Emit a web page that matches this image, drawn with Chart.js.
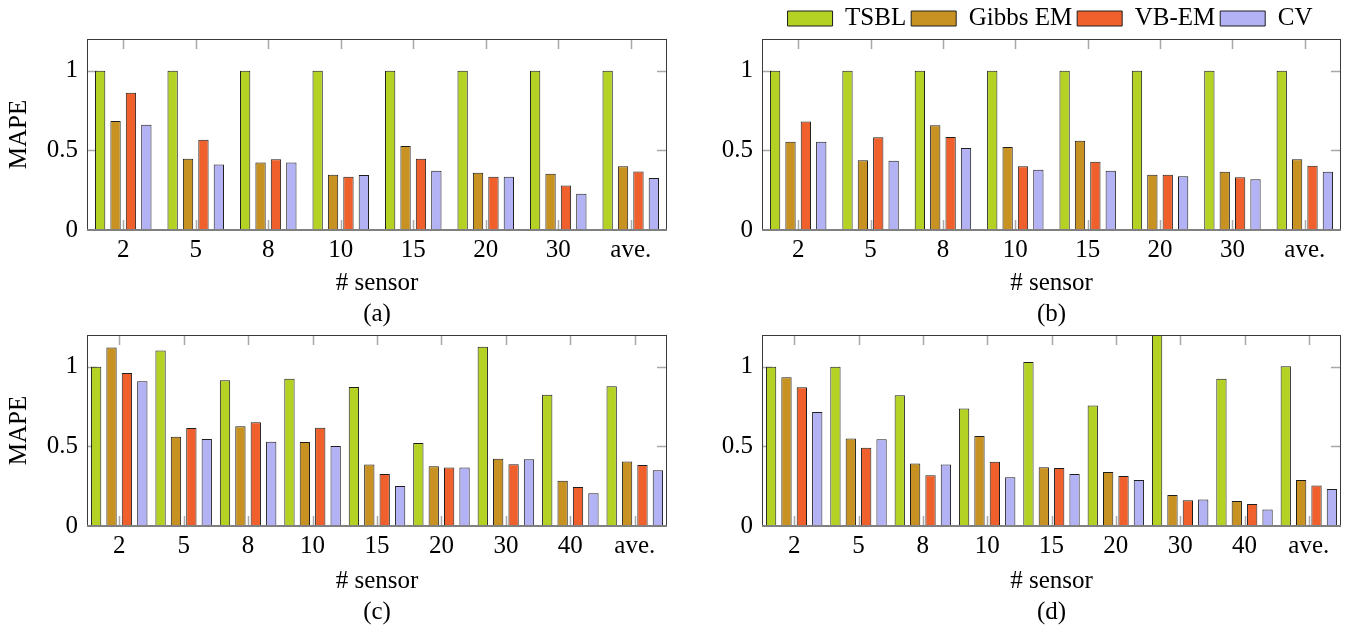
<!DOCTYPE html>
<html><head><meta charset="utf-8">
<script src="https://cdn.jsdelivr.net/npm/chart.js@4.4.0/dist/chart.umd.min.js"></script>
<style>
html,body{margin:0;padding:0;background:#fff;}
#wrap{position:relative;width:1350px;height:628px;overflow:hidden;background:#fff;}
canvas{position:absolute;}
</style></head><body>
<div id="wrap">
<canvas id="ca" width="680" height="330" style="left:0px;top:0px"></canvas>
<canvas id="cb" width="670" height="330" style="left:680px;top:0px"></canvas>
<canvas id="cc" width="680" height="328" style="left:0px;top:300px"></canvas>
<canvas id="cd" width="670" height="328" style="left:680px;top:300px"></canvas>
<canvas id="leg" width="600" height="90" style="left:750px;top:1px"></canvas>
</div>
<script>
// ---- data ----
const seriesNames = ['TSBL', 'Gibbs EM', 'VB-EM', 'CV'];
const catsAB = ['2', '5', '8', '10', '15', '20', '30', 'ave.'];
const catsCD = ['2', '5', '8', '10', '15', '20', '30', '40', 'ave.'];
const yTicks = [0, 0.5, 1];

const a_TSBL  = [1, 1, 1, 1, 1, 1, 1, 1];
const a_Gibbs = [0.685, 0.447, 0.424, 0.347, 0.527, 0.359, 0.353, 0.401];
const a_VB    = [0.863, 0.567, 0.445, 0.334, 0.447, 0.334, 0.279, 0.368];
const a_CV    = [0.662, 0.412, 0.424, 0.345, 0.372, 0.334, 0.227, 0.326];

const b_TSBL  = [1, 1, 1, 1, 1, 1, 1, 1];
const b_Gibbs = [0.555, 0.439, 0.658, 0.521, 0.561, 0.347, 0.366, 0.445];
const b_VB    = [0.681, 0.582, 0.584, 0.401, 0.429, 0.347, 0.332, 0.403];
const b_CV    = [0.555, 0.435, 0.515, 0.378, 0.372, 0.338, 0.319, 0.366];

const c_TSBL  = [1.0, 1.103, 0.916, 0.925, 0.874, 0.522, 1.126, 0.824, 0.878];
const c_Gibbs = [1.122, 0.560, 0.627, 0.528, 0.386, 0.375, 0.423, 0.285, 0.405];
const c_VB    = [0.962, 0.616, 0.652, 0.618, 0.327, 0.367, 0.388, 0.245, 0.384];
const c_CV    = [0.910, 0.547, 0.530, 0.503, 0.252, 0.367, 0.419, 0.205, 0.350];

const d_TSBL  = [1.0, 1.0, 0.822, 0.738, 1.031, 0.757, 1.3, 0.925, 1.004];
const d_Gibbs = [0.935, 0.549, 0.392, 0.566, 0.369, 0.340, 0.195, 0.157, 0.289];
const d_VB    = [0.872, 0.491, 0.319, 0.403, 0.365, 0.314, 0.161, 0.138, 0.254];
const d_CV    = [0.717, 0.545, 0.386, 0.306, 0.327, 0.289, 0.166, 0.103, 0.233];

// ---- style ----
const colors = ['#b4d223', '#c89222', '#f0602c', '#b2b2f5'];
const edge = '#1e1e1e';
Chart.defaults.font.family = "'Liberation Serif', 'Times New Roman', serif";
Chart.defaults.color = '#000';

const framePlugin = {
  id: 'frame',
  beforeDatasetsDraw(chart) {
    const {ctx, chartArea: a, scales: {x, y}} = chart;
    ctx.save();
    ctx.strokeStyle = '#a8a8a8';
    ctx.lineWidth = 1.5;
    ctx.beginPath();
    for (let i = 0; i < x.ticks.length; i++) {
      const px = Math.round(x.getPixelForTick(i)) + 0.5;
      ctx.moveTo(px, a.top); ctx.lineTo(px, a.top + 10);
      ctx.moveTo(px, a.bottom); ctx.lineTo(px, a.bottom - 10);
    }
    yTicks.forEach(v => {
      if (v === 0) return;
      const py = Math.round(y.getPixelForValue(v)) + 0.5;
      ctx.moveTo(a.left, py); ctx.lineTo(a.left + 10, py);
      ctx.moveTo(a.right, py); ctx.lineTo(a.right - 10, py);
    });
    ctx.stroke();
    ctx.restore();
  },
  afterDatasetsDraw(chart) {
    const {ctx, chartArea: a} = chart;
    ctx.save();
    ctx.strokeStyle = '#3a3a3a';
    ctx.lineWidth = 1;
    ctx.strokeRect(Math.round(a.left) + 0.5, Math.round(a.top) + 0.5,
                   Math.round(a.right - a.left) - 1, Math.round(a.bottom - a.top));
    ctx.strokeStyle = '#808080';
    ctx.lineWidth = 2;
    ctx.beginPath();
    ctx.moveTo(a.left, Math.round(a.bottom)); ctx.lineTo(a.right, Math.round(a.bottom));
    ctx.stroke();
    ctx.restore();
  }
};

function makePanel(id, cats, sets, caption, showYTitle, o) {
  const cp = cats.length === 9 ? 0.956 : 0.85;
  return new Chart(document.getElementById(id), {
    type: 'bar',
    data: {
      labels: cats,
      datasets: sets.map((d, i) => ({
        label: seriesNames[i], data: d,
        backgroundColor: colors[i], borderColor: edge, borderWidth: 1,
        borderSkipped: 'start', categoryPercentage: cp, barPercentage: 0.67
      }))
    },
    options: {
      responsive: false, animation: false, devicePixelRatio: 1,
      layout: {padding: {top: o.padTop, right: o.padRight, left: 0, bottom: 0}},
      plugins: {legend: {display: false}, tooltip: {enabled: false}},
      scales: {
        x: {
          grid: {display: false, drawTicks: false}, border: {display: false},
          ticks: {font: {size: 25}, color: '#000', padding: 5, maxRotation: 0, autoSkip: false},
          title: {display: true, text: ['# sensor', caption], font: {size: 25, lineHeight: 1.24},
                  color: '#000', padding: {top: 0, bottom: 0}},
          afterFit(s) { s.height = o.xH; }
        },
        y: {
          min: 0, max: 1.2,
          grid: {display: false, drawTicks: false}, border: {display: false},
          ticks: {font: {size: 25}, color: '#000', padding: 9, callback: v => String(v)},
          afterBuildTicks(s) { s.ticks = yTicks.map(v => ({value: v})); },
          title: {display: showYTitle, text: 'MAPE', font: {size: 25}, color: '#000',
                  padding: {top: 4, bottom: 4}},
          afterFit(s) { s.width = o.yW; }
        }
      }
    },
    plugins: [framePlugin]
  });
}

makePanel('ca', catsAB, [a_TSBL, a_Gibbs, a_VB, a_CV], '(a)', true,  {padTop: 39, padRight: 13, xH: 100, yW: 87});
makePanel('cb', catsAB, [b_TSBL, b_Gibbs, b_VB, b_CV], '(b)', false, {padTop: 39, padRight: 9,  xH: 100, yW: 82});
makePanel('cc', catsCD, [c_TSBL, c_Gibbs, c_VB, c_CV], '(c)', true,  {padTop: 35, padRight: 13, xH: 102, yW: 87});
makePanel('cd', catsCD, [d_TSBL, d_Gibbs, d_VB, d_CV], '(d)', false, {padTop: 35, padRight: 9,  xH: 102, yW: 82});

new Chart(document.getElementById('leg'), {
  type: 'bar',
  data: {
    labels: [],
    datasets: seriesNames.map((n, i) => ({label: n, data: [], backgroundColor: colors[i], borderColor: edge, borderWidth: 1}))
  },
  options: {
    responsive: false, animation: false, devicePixelRatio: 1,
    layout: {padding: 0},
    scales: {x: {display: false}, y: {display: false}},
    plugins: {
      tooltip: {enabled: false},
      legend: {display: true, position: 'top', maxHeight: 60,
               labels: {boxWidth: 45, boxHeight: 15, padding: 5, font: {size: 25}, color: '#000'}}
    }
  }
});
</script>
</body></html>
